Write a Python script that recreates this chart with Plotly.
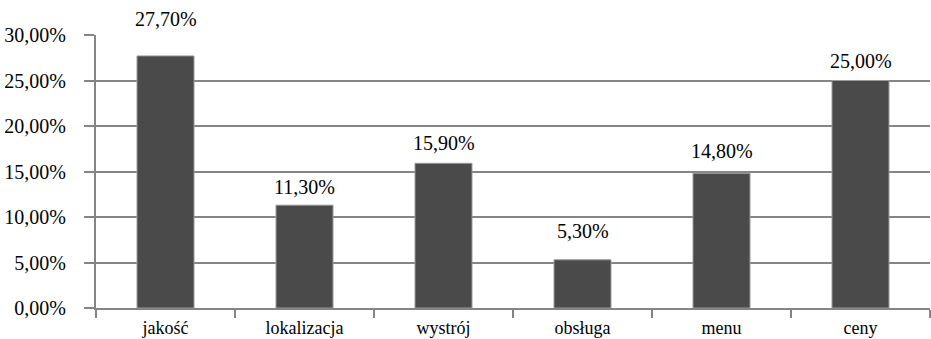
import plotly.graph_objects as go

categories = ["jakość", "lokalizacja", "wystrój", "obsługa", "menu", "ceny"]
values = [27.7, 11.3, 15.9, 5.3, 14.8, 25.0]
value_labels = ["27,70%", "11,30%", "15,90%", "5,30%", "14,80%", "25,00%"]
y_tickvals = [0, 5, 10, 15, 20, 25, 30]
y_ticktext = ["0,00%", "5,00%", "10,00%", "15,00%", "20,00%", "25,00%", "30,00%"]
label_gaps = [37, 18, 20, 29, 22, 20]

FONT = "Liberation Serif, DejaVu Serif"
GRAY = "#858585"

fig = go.Figure()
fig.add_trace(go.Bar(
    x=categories, y=values,
    marker=dict(color="#4a4a4a", line=dict(color="#9a9a9a", width=1)),
    hoverinfo="skip",
))

for c, v, t, g in zip(categories, values, value_labels, label_gaps):
    fig.add_annotation(x=c, y=v, text=t, showarrow=False, yanchor="middle",
                       yshift=g, font=dict(family=FONT, size=20, color="black"))

fig.update_layout(
    width=931, height=339,
    margin=dict(l=96, r=1, t=35, b=31),
    paper_bgcolor="white", plot_bgcolor="white",
    bargap=0.59, showlegend=False,
    font=dict(family=FONT, size=18, color="black"),
)
fig.update_yaxes(
    range=[0, 30], tickvals=y_tickvals, ticktext=y_ticktext,
    showgrid=True, gridcolor=GRAY, gridwidth=2,
    showline=True, linecolor=GRAY, linewidth=2,
    ticks="outside", ticklen=10, tickcolor=GRAY, tickwidth=2,
    tickfont=dict(family=FONT, size=20, color="black"),
    ticklabelstandoff=14, zeroline=False, fixedrange=True, automargin=False,
)
fig.update_xaxes(
    showline=True, linecolor=GRAY, linewidth=2,
    ticks="outside", ticklen=8, tickcolor=GRAY, tickwidth=2,
    tickson="boundaries", showgrid=False,
    tickfont=dict(family=FONT, size=18, color="black"),
    ticklabelstandoff=2, fixedrange=True, automargin=False,
)

fig.write_html("out.html")
